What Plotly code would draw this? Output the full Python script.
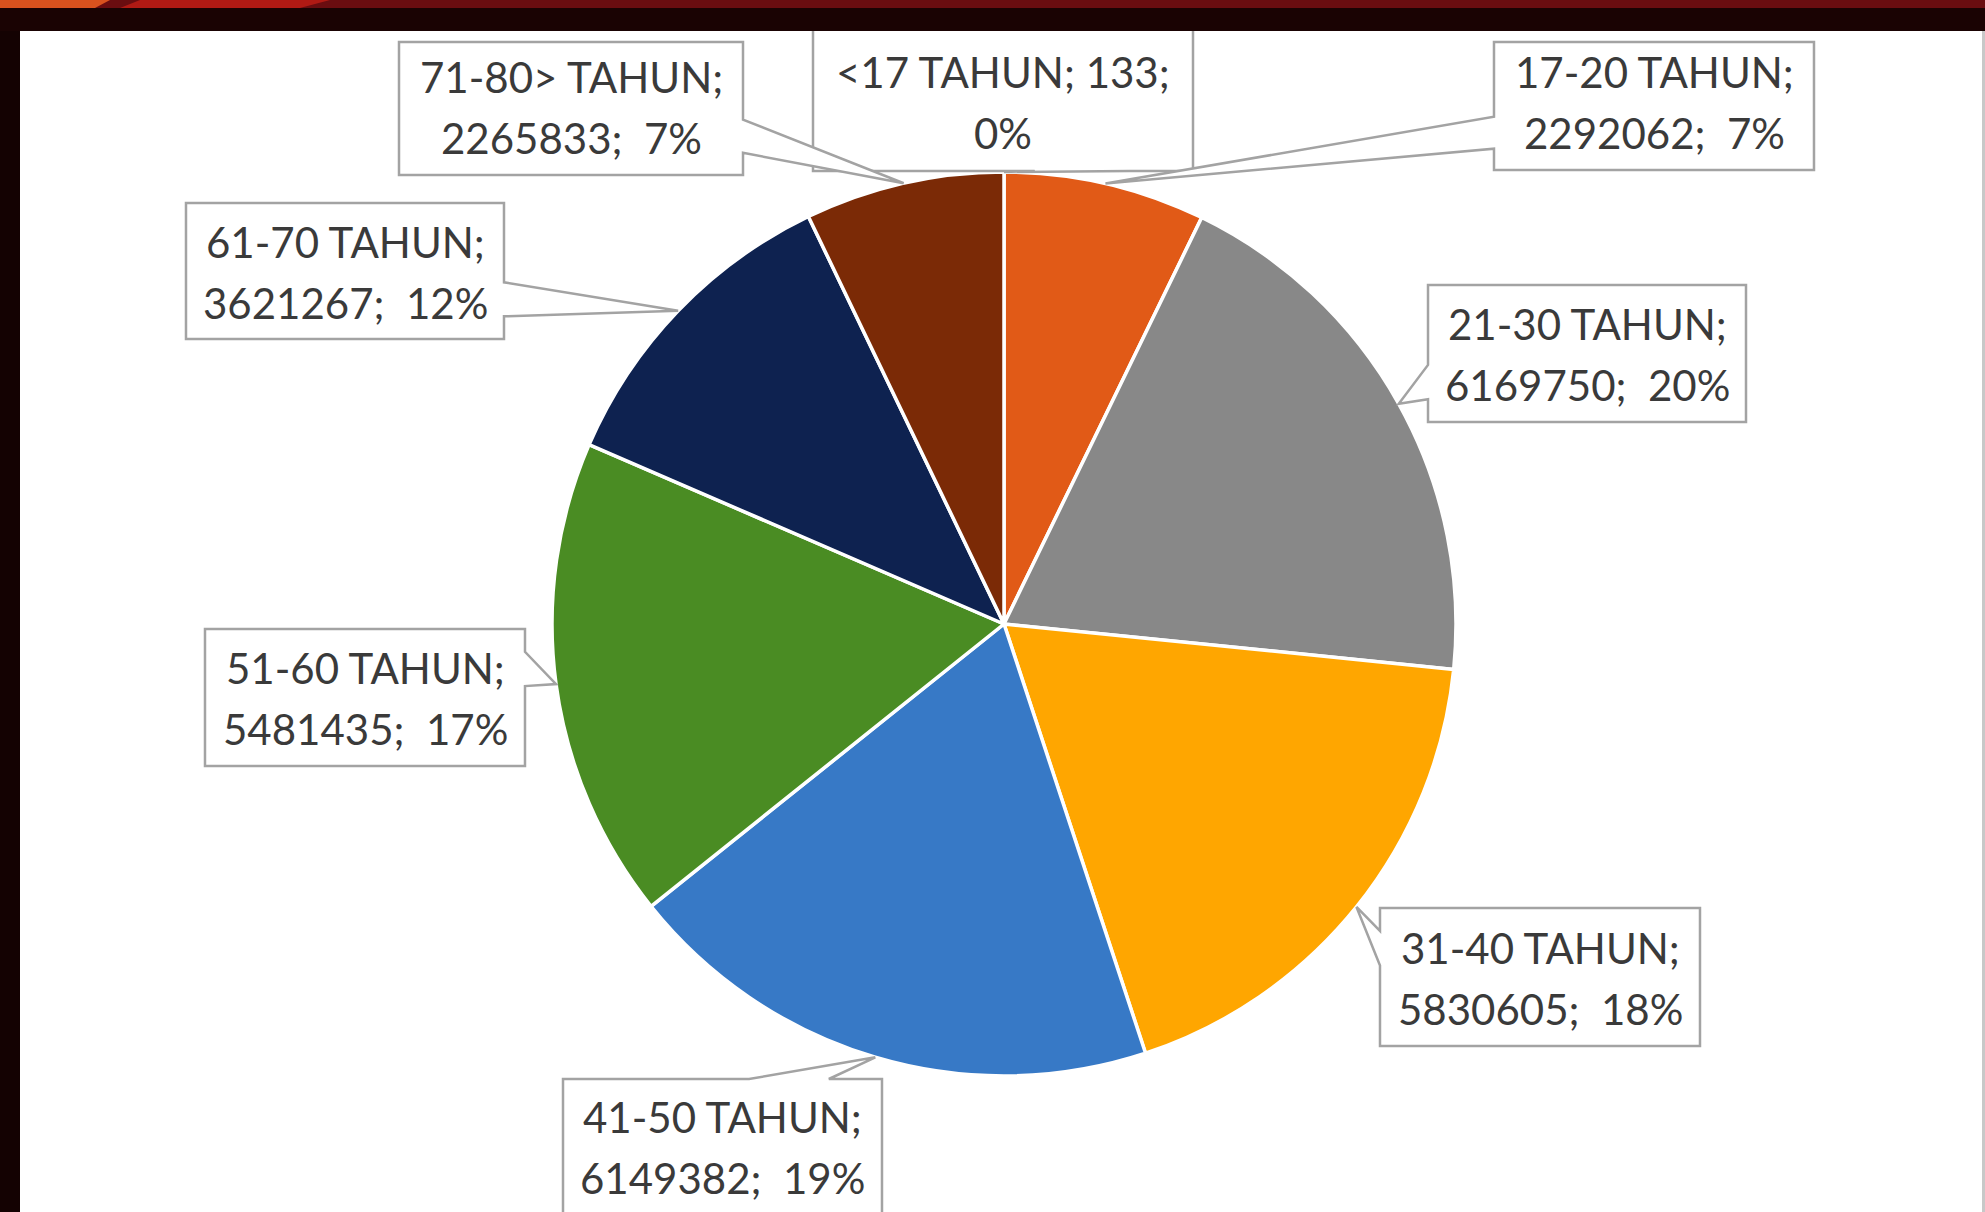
import math
import plotly.graph_objects as go

# data
labels = ["<17 TAHUN", "17-20 TAHUN", "21-30 TAHUN", "31-40 TAHUN",
          "41-50 TAHUN", "51-60 TAHUN", "61-70 TAHUN", "71-80> TAHUN"]
values = [133, 2292062, 6169750, 5830605, 6149382, 5481435, 3621267, 2265833]
pct_text = ["0%", "7%", "20%", "18%", "19%", "17%", "12%", "7%"]
colors = ["#2F5597", "#E15A17", "#888888", "#FFA600",
          "#3779C6", "#4A8C23", "#0E2250", "#7B2A06"]

# how many parts of "label; value; pct" go on the first line of each callout
first_line_parts = [2, 1, 1, 1, 1, 1, 1, 1]

# callout boxes in page pixels (left, top, right, bottom) and text centre y
boxes = [(813, 20, 1193, 171), (1494, 42, 1814, 170), (1428, 285, 1746, 422),
         (1380, 908, 1700, 1046), (563, 1079, 882, 1216), (205, 629, 525, 766),
         (186, 203, 504, 339), (399, 42, 743, 175)]
text_mid_y = [102.5, 102.5, 354.4, 978, 1147, 698, 272.8, 107.6]

W, H = 1985, 1212
CX, CY, R = 1004, 624, 452
LINE_GAP = 61


def px(x, y):
    return f"{x / W:.5f},{1 - y / H:.5f}"


def callout_path(box, tip):
    # rectangle with a wedge, like the office wedgeRectCallout
    l, t, r, b = box
    w, h = r - l, b - t
    dx = tip[0] - (l + r) / 2
    dy = tip[1] - (t + b) / 2
    x1 = l + w * (7 if dx > 0 else 2) / 12
    x2 = l + w * (10 if dx > 0 else 5) / 12
    y1 = t + h * (7 if dy > 0 else 2) / 12
    y2 = t + h * (10 if dy > 0 else 5) / 12
    if abs(dx * h) > abs(dy * w):
        side = "right" if dx > 0 else "left"
    else:
        side = "bottom" if dy > 0 else "top"
    pts = [(l, t)]
    if side == "top":
        pts += [(x1, t), tip, (x2, t)]
    pts.append((r, t))
    if side == "right":
        pts += [(r, y1), tip, (r, y2)]
    pts.append((r, b))
    if side == "bottom":
        pts += [(x2, b), tip, (x1, b)]
    pts.append((l, b))
    if side == "left":
        pts += [(l, y2), tip, (l, y1)]
    return "M" + " L".join(px(*p) for p in pts) + " Z"


fig = go.Figure(go.Pie(
    labels=labels,
    values=values,
    sort=False,
    direction="clockwise",
    rotation=0,
    textinfo="none",
    marker=dict(colors=colors, line=dict(color="white", width=3.5)),
    showlegend=False,
    domain=dict(x=[(CX - R) / W, (CX + R) / W], y=[1 - (CY + R) / H, 1 - (CY - R) / H]),
))

shapes = [dict(type="rect", xref="paper", yref="paper", x0=20 / W, x1=1982 / W,
               y0=0, y1=1 - 31 / H, fillcolor="white", line_width=0, layer="below")]
annotations = []

total = sum(values)
cum = 0
for i, lab in enumerate(labels):
    mid = (cum + values[i] / 2) / total * 2 * math.pi
    cum += values[i]
    tip = (CX + R * math.sin(mid), CY - R * math.cos(mid))
    shapes.append(dict(type="path", xref="paper", yref="paper",
                       path=callout_path(boxes[i], tip),
                       line=dict(color="#A3A3A3", width=2.5), fillcolor="white", layer="above"))
    parts = [lab + ";", f"{values[i]};", pct_text[i]]
    n = first_line_parts[i]
    lines = [" ".join(parts[:n]), "\u00a0\u00a0".join(parts[n:])]
    bx = (boxes[i][0] + boxes[i][2]) / 2
    for k, txt in enumerate(lines):
        ty = text_mid_y[i] + (k - 0.5) * LINE_GAP
        annotations.append(dict(
            text=txt.replace("<", "&lt;"), x=bx / W, y=1 - ty / H, xref="paper", yref="paper",
            xanchor="center", yanchor="middle", showarrow=False,
            font=dict(family="Lato", size=42, color="#3A3A3A")))

# dark frame along the top, with the red strip of the slide
shapes += [
    dict(type="rect", xref="paper", yref="paper", x0=0, x1=1, y0=1 - 31 / H, y1=1,
         fillcolor="#1A0303", line_width=0, layer="above"),
    dict(type="rect", xref="paper", yref="paper", x0=0, x1=1, y0=1 - 8 / H, y1=1,
         fillcolor="#6A0D10", line_width=0, layer="above"),
    dict(type="path", xref="paper", yref="paper", layer="above", line_width=0,
         fillcolor="#D9521E", path="M" + " L".join([px(0, 8), px(0, 0), px(110, 0), px(95, 8)]) + " Z"),
    dict(type="path", xref="paper", yref="paper", layer="above", line_width=0,
         fillcolor="#B01A14", path="M" + " L".join([px(120, 8), px(140, 0), px(330, 0), px(300, 8)]) + " Z"),
    dict(type="rect", xref="paper", yref="paper", x0=1982 / W, x1=1, y0=0, y1=1 - 31 / H,
         fillcolor="#C8C8C8", line_width=0, layer="above"),
]

fig.update_layout(
    width=W, height=H,
    margin=dict(l=0, r=0, t=0, b=0),
    paper_bgcolor="#140202",
    plot_bgcolor="#140202",
    shapes=shapes,
    annotations=annotations,
)

# the page body has a default margin; drop it so the figure sits at the corner
fig.write_html("out.html", config={"displayModeBar": False},
               post_script="document.body.style.margin='0px';")
